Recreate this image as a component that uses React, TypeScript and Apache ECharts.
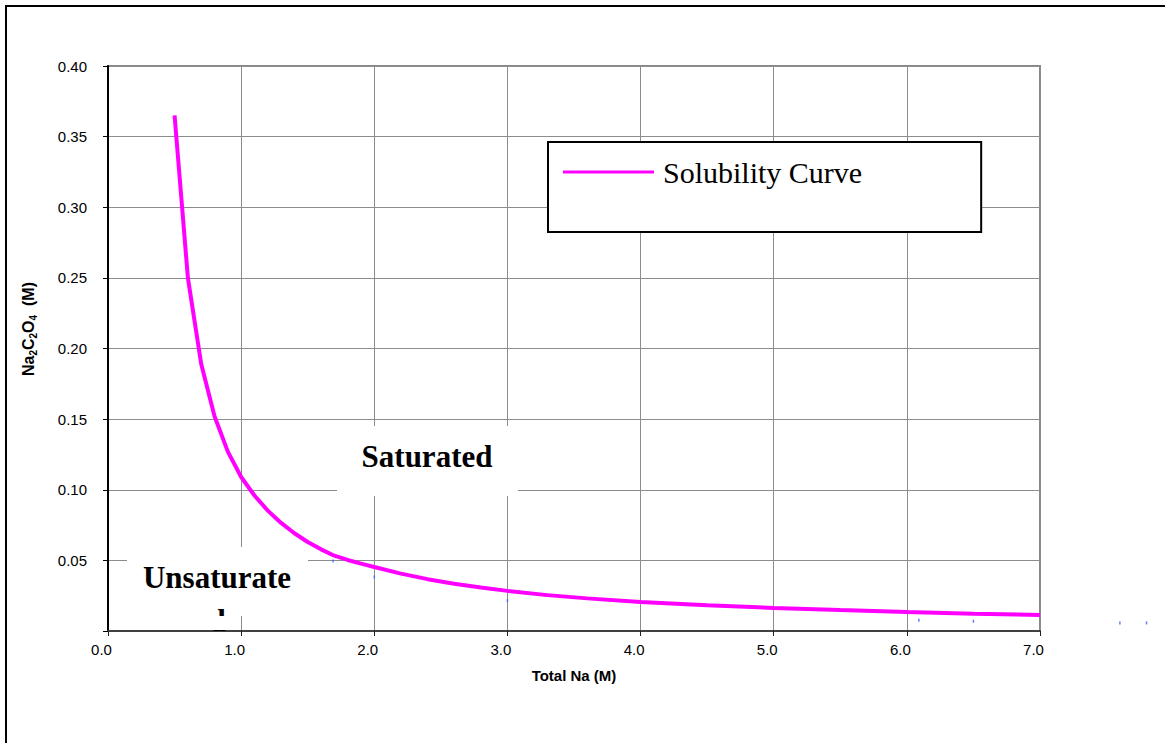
import React, { useEffect, useRef } from "react";
import * as echarts from "echarts";

// Solubility curve
const totalNa = [0.5, 0.6, 0.7, 0.8, 0.9, 1.0, 1.1, 1.2, 1.3, 1.4, 1.5, 1.6, 1.7, 1.8, 1.9, 2.0, 2.2, 2.4, 2.6, 2.8, 3.0, 3.3, 3.6, 4.0, 4.5, 5.0, 5.5, 6.0, 6.5, 7.0];
const solubility = [0.365, 0.25, 0.189, 0.152, 0.127, 0.109, 0.0959, 0.0852, 0.0765, 0.0692, 0.063, 0.0578, 0.0533, 0.0503, 0.0477, 0.0453, 0.0406, 0.0367, 0.0335, 0.0308, 0.0284, 0.0254, 0.0231, 0.0205, 0.0182, 0.0163, 0.0148, 0.0135, 0.0123, 0.0113];

// tiny measured points (blue specks)
const pointX = [1.69, 2.0, 3.0, 6.09, 6.5, 7.6, 7.8];
const pointY = [0.0496, 0.0383, 0.0215, 0.0076, 0.0069, 0.0057, 0.0057];

const xTicks = [0, 1, 2, 3, 4, 5, 6, 7];
const yTicks = [0, 0.05, 0.1, 0.15, 0.2, 0.25, 0.3, 0.35, 0.4];

const seriesName = "Solubility Curve";
const xTitle = "Total Na (M)";
const regionSaturated = "Saturated";
const regionUnsat1 = "Unsaturate";
const regionUnsat2 = "d";

const SANS = "'Liberation Sans', Arial, Helvetica, sans-serif";
const SERIF = "'Liberation Serif', 'Times New Roman', serif";

export default function App() {
  const ref = useRef<HTMLDivElement>(null);
  useEffect(() => {
    if (!ref.current) return;
    const chart = echarts.init(ref.current, undefined, { renderer: "svg" });
    const option = {
      animation: false,
      backgroundColor: "#ffffff",
      grid: {
        left: 108,
        top: 66,
        width: 932,
        height: 565,
        show: true,
        borderColor: "#888888",
        borderWidth: 2,
        backgroundColor: "transparent",
      },
      legend: {
        show: true,
        data: [seriesName],
        left: 548,
        top: 142,
        orient: "horizontal",
        selectedMode: false,
        backgroundColor: "#ffffff",
        borderColor: "#000000",
        borderWidth: 2,
        borderRadius: 0,
        padding: [15, 119, 45, 15],
        itemWidth: 91,
        itemHeight: 3,
        icon: "rect",
        textStyle: { fontFamily: SERIF, fontSize: 30, color: "#000000", padding: [0, 0, 0, 4] },
      },
      xAxis: {
        type: "value",
        min: xTicks[0],
        max: xTicks[xTicks.length - 1],
        interval: 1,
        name: xTitle,
        nameLocation: "middle",
        nameGap: 37,
        nameTextStyle: { fontFamily: SANS, fontSize: 15, fontWeight: "bold", color: "#000" },
        axisLine: { show: true, onZero: false, lineStyle: { color: "#404040", width: 2 } },
        axisTick: { show: true, inside: false, length: 5, lineStyle: { color: "#202020", width: 1 } },
        axisLabel: {
          fontFamily: SANS,
          fontSize: 15,
          color: "#000",
          margin: 11,
          padding: [0, 13, 0, 0],
          formatter: (v: number) => v.toFixed(1),
        },
        splitLine: { show: true, lineStyle: { color: "#8c8c8c", width: 1 } },
      },
      yAxis: {
        type: "value",
        min: yTicks[0],
        max: yTicks[yTicks.length - 1],
        interval: 0.05,
        axisLine: { show: true, onZero: false, lineStyle: { color: "#000000", width: 2 } },
        axisTick: { show: true, inside: false, length: 5, lineStyle: { color: "#000", width: 1 } },
        axisLabel: {
          fontFamily: SANS,
          fontSize: 15,
          color: "#000",
          margin: 21,
          padding: [0, 0, 7, 0],
          formatter: (v: number) => (v === 0 ? "" : v.toFixed(2)),
        },
        splitLine: { show: true, lineStyle: { color: "#8c8c8c", width: 1 } },
      },
      series: [
        {
          name: seriesName,
          type: "line",
          data: totalNa.map((x, i) => [x, solubility[i]]),
          showSymbol: false,
          symbol: "none",
          smooth: false,
          z: 3,
          lineStyle: { color: "#ff00ff", width: 4 },
          itemStyle: { color: "#ff00ff" },
        },
        {
          name: "points",
          type: "scatter",
          data: pointX.map((x, i) => [x, pointY[i]]),
          symbol: "rect",
          symbolSize: [1.5, 3],
          clip: false,
          z: 3,
          itemStyle: { color: "#3a5cff" },
        },
      ],
      graphic: [
        {
          type: "rect",
          z: 1,
          shape: { x: 337, y: 426, width: 181, height: 70 },
          style: { fill: "#ffffff" },
        },
        {
          type: "text",
          z: 5,
          x: 427,
          y: 456,
          style: {
            text: regionSaturated,
            fontFamily: SERIF,
            fontSize: 31,
            fontWeight: "bold",
            fill: "#000",
            align: "center",
            verticalAlign: "middle",
          },
        },
        {
          type: "rect",
          z: 1,
          shape: { x: 127, y: 547, width: 181, height: 69 },
          style: { fill: "#ffffff" },
        },
        {
          type: "text",
          z: 5,
          x: 217,
          y: 577,
          style: {
            text: regionUnsat1,
            fontFamily: SERIF,
            fontSize: 31,
            fontWeight: "bold",
            fill: "#000",
            align: "center",
            verticalAlign: "middle",
          },
        },
        {
          type: "text",
          z: 5,
          x: 217,
          y: 620,
          style: {
            text: regionUnsat2,
            fontFamily: SERIF,
            fontSize: 31,
            fontWeight: "bold",
            fill: "#000",
            align: "center",
            verticalAlign: "middle",
          },
        },
        {
          type: "rect",
          z: 6,
          shape: { x: 195, y: 616, width: 42, height: 14 },
          style: { fill: "#ffffff" },
        },
        {
          type: "text",
          z: 5,
          x: 28,
          y: 329,
          rotation: Math.PI / 2,
          style: {
            text: "{b|Na}{s|2}{b|C}{s|2}{b|O}{s|4}{b|  (M)}",
            align: "center",
            verticalAlign: "middle",
            fill: "#000",
            rich: {
              b: { fontFamily: SANS, fontSize: 16, fontWeight: "bold", lineHeight: 20, verticalAlign: "middle", fill: "#000" },
              s: { fontFamily: SANS, fontSize: 10, fontWeight: "bold", lineHeight: 10, verticalAlign: "bottom", fill: "#000" },
            },
          },
        },
        {
          type: "rect",
          z: 10,
          shape: { x: 6, y: 6, width: 1175, height: 760 },
          style: { fill: "none", stroke: "#000000", lineWidth: 2 },
        },
      ],
    };
    chart.setOption(option as any);
    return () => chart.dispose();
  }, []);
  return (
    <div
      ref={ref}
      style={{ position: "fixed", left: 0, top: 0, width: 1165, height: 743, background: "#fff" }}
    />
  );
}
